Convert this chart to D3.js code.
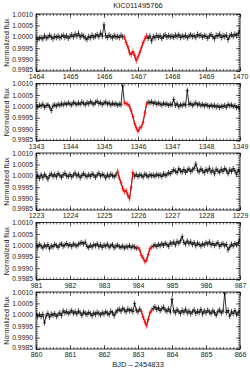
<!DOCTYPE html>
<html><head><meta charset="utf-8">
<script src="https://cdn.jsdelivr.net/npm/d3@7"></script>
<style>body{margin:0;background:#fff}svg{display:block}</style>
</head><body>
<script>
const title = "KIC011495766";
const xLabel = "BJD – 2454833";
const yLabel = "Normalized flux";
const panelStart = [1464, 1343, 1223, 981, 860];
const panelSpan = 6;
const sampleStep = 0.05;
const transitStart = [1466.58, 1345.58, 1225.38, 983.98, 863.08];
const transitEnd = [1467.28, 1346.28, 1225.88, 984.42, 863.42];
const errPpm = [130, 120, 125, 120, 125];
const yTicks = [0.9985, 0.9990, 0.9995, 1.0000, 1.0005, 1.0010];

// flux deviations in ppm, one value every sampleStep days from panelStart
const flux1 = [-40,-120,-60,-30,-90,40,-50,-20,60,-10,-80,20,-30,30,-40,10,60,-20,40,-60,
 20,80,0,110,30,150,-10,70,20,-50,-110,10,-40,60,-20,40,90,10,160,30,
 520,40,-30,70,10,-40,50,-10,20,-30,60,0,-20,-250,-420,-700,-780,-650,-820,-1050,
 -880,-700,-480,-260,-90,40,-60,30,-180,10,-40,60,-20,40,-70,20,80,-10,50,0,
 30,-20,70,10,90,-30,40,0,60,-40,30,80,10,50,-20,100,40,70,-10,50,
 20,-60,40,90,10,-80,60,30,110,-30,50,10,70,-120,40,90,20,110,60,150,280];
const flux2 = [20,-30,50,10,90,-40,30,60,-20,-180,20,60,10,90,40,110,60,130,80,150,
 100,60,170,120,80,150,90,180,130,70,160,110,200,140,90,170,220,120,160,80,
 140,190,100,150,60,130,80,120,50,100,60,900,150,120,90,0,-200,-450,-750,-950,
 -1100,-950,-900,-700,-300,100,180,150,200,120,170,90,140,100,60,130,80,110,40,90,
 60,300,40,110,-20,70,30,100,50,700,80,120,40,90,150,60,110,30,80,20,
 70,30,-10,50,0,40,-30,20,-50,10,-20,40,-40,80,20,60,-10,30,-60,-20,-150];
const flux3 = [-60,20,-120,40,-80,60,-30,-140,10,80,-20,50,-40,100,20,-60,40,110,0,-30,
 60,-50,30,120,-10,70,-80,20,90,10,-40,50,-20,80,30,-60,40,110,-10,60,
 20,-90,40,-30,70,10,-40,30,200,-100,-300,-550,-700,-650,-850,-1000,-500,150,-20,60,
 -30,40,10,-50,70,20,-40,50,0,30,-20,60,10,40,-30,80,20,50,130,90,
 180,260,200,140,310,220,170,280,150,240,300,190,260,330,520,240,180,300,220,140,
 270,200,330,160,250,90,290,210,150,280,200,320,240,100,260,190,310,220,70,260,180];
const flux4 = [20,-80,40,-30,-120,10,-60,30,-150,-20,-70,40,-10,-90,20,60,-40,10,80,-20,
 30,-50,60,10,-30,50,90,120,60,140,-40,-100,0,-70,30,-20,60,-60,20,-90,
 10,-40,50,-80,-20,30,-110,-40,10,-60,-90,-30,-120,-50,-80,-10,-100,-40,-70,-130,
 -100,-200,-450,-550,-720,-650,-400,-150,-80,-30,20,-60,40,-20,70,0,90,30,-40,110,
 60,140,20,170,90,200,380,120,60,190,80,150,30,120,-20,90,40,-30,60,10,
 120,50,150,20,80,-10,60,110,-40,30,70,-20,40,-200,-80,50,-30,80,20,120,260];
const flux5 = [40,-60,10,-80,20,-350,-40,60,-100,30,-20,50,-70,10,80,-30,170,90,140,60,
 110,180,70,130,40,160,90,-20,120,60,20,100,50,-40,80,20,110,60,0,90,
 40,130,70,10,150,90,-40,120,190,240,160,280,210,130,250,180,220,140,500,200,
 130,250,150,-100,-300,-480,-200,80,200,280,350,230,310,180,270,330,210,150,260,120,
 680,180,90,220,140,60,190,110,240,80,160,50,130,210,70,150,100,230,40,170,
 90,200,120,60,180,100,-20,140,210,80,160,950,100,190,-60,130,50,180,20,110,160];
const fluxes = [flux1, flux2, flux3, flux4, flux5];

const W = 250, H = 375;
const left = 36, right = 240, top0 = 14, ph = 57, step = 69.5;
const svg = d3.select("body").append("svg").attr("width", W).attr("height", H)
  .style("font-family", "'Liberation Sans', Arial, sans-serif");

svg.append("text").attr("x", (left + right) / 2).attr("y", 8).attr("text-anchor", "middle")
  .attr("font-size", 7.5).attr("fill", "#222").text(title);

const y = d3.scaleLinear().domain([0.9985, 1.0010]);
const yMinor = d3.range(0, 26).map(k => 0.9985 + k * 0.0001);

fluxes.forEach((fl, p) => {
  const t0 = top0 + p * step;
  const g = svg.append("g");
  const x = d3.scaleLinear().domain([panelStart[p], panelStart[p] + panelSpan]).range([left, right]);
  const ys = y.copy().range([t0 + ph, t0]);
  const data = fl.map((v, i) => ({t: panelStart[p] + i * sampleStep, f: 1 + v / 1e6, e: errPpm[p] / 1e6}));
  const clipId = "clip" + p;
  svg.append("clipPath").attr("id", clipId).append("rect")
    .attr("x", left).attr("y", t0).attr("width", right - left).attr("height", ph);
  const dg = g.append("g").attr("clip-path", `url(#${clipId})`);
  const inT = d => d.t >= transitStart[p] && d.t <= transitEnd[p];
  const line = d3.line().x(d => x(d.t)).y(d => ys(d.f));
  dg.append("path").datum(data).attr("d", line).attr("fill", "none").attr("stroke", "#000").attr("stroke-width", 0.8);
  const red = data.filter(inT);
  dg.append("path").datum(red).attr("d", line).attr("fill", "none").attr("stroke", "#f00").attr("stroke-width", 0.9);
  dg.selectAll("line.eb").data(data).join("line").attr("class", "eb")
    .attr("x1", d => x(d.t)).attr("x2", d => x(d.t))
    .attr("y1", d => ys(d.f - d.e)).attr("y2", d => ys(d.f + d.e))
    .attr("stroke", d => inT(d) ? "#f00" : "#000").attr("stroke-width", 0.7);
  dg.selectAll("line.hb").data(data).join("line").attr("class", "hb")
    .attr("x1", d => x(d.t) - 1.6).attr("x2", d => x(d.t) + 1.6)
    .attr("y1", d => ys(d.f)).attr("y2", d => ys(d.f))
    .attr("stroke", d => inT(d) ? "#f00" : "#000").attr("stroke-width", 0.7);

  const xMajor = d3.range(0, panelSpan + 1).map(k => panelStart[p] + k);
  const xMinor = d3.range(0, panelSpan * 10 + 1).map(k => panelStart[p] + k / 10);
  const fs = 7;
  const axStyle = sel => { sel.select(".domain").remove(); sel.selectAll("line").attr("stroke", "#000").attr("stroke-width", 0.6); sel.selectAll("text").attr("font-size", fs).attr("fill", "#222").attr("font-family", "'Liberation Sans', Arial, sans-serif"); };
  g.append("g").attr("transform", `translate(0,${t0 + ph})`).call(d3.axisBottom(x).tickValues(xMajor).tickSize(-4).tickPadding(3.5).tickFormat(d3.format("d"))).call(axStyle);
  g.append("g").attr("transform", `translate(0,${t0 + ph})`).call(d3.axisBottom(x).tickValues(xMinor).tickSize(-2).tickFormat("")).call(axStyle);
  g.append("g").attr("transform", `translate(0,${t0})`).call(d3.axisTop(x).tickValues(xMajor).tickSize(-4).tickFormat("")).call(axStyle);
  g.append("g").attr("transform", `translate(0,${t0})`).call(d3.axisTop(x).tickValues(xMinor).tickSize(-2).tickFormat("")).call(axStyle);
  const yl = g.append("g").attr("transform", `translate(${left},0)`).call(d3.axisLeft(ys).tickValues(yTicks).tickSize(-4).tickPadding(3).tickFormat(d3.format(".4f"))).call(axStyle);
  yl.selectAll("text").attr("font-size", 6.8).attr("dy", d => d === 0.9985 ? "0.1em" : "0.32em");
  g.append("g").attr("transform", `translate(${left},0)`).call(d3.axisLeft(ys).tickValues(yMinor).tickSize(-2).tickFormat("")).call(axStyle);
  g.append("g").attr("transform", `translate(${right},0)`).call(d3.axisRight(ys).tickValues(yTicks).tickSize(-4).tickFormat("")).call(axStyle);
  g.append("g").attr("transform", `translate(${right},0)`).call(d3.axisRight(ys).tickValues(yMinor).tickSize(-2).tickFormat("")).call(axStyle);
  g.append("rect").attr("x", left).attr("y", t0).attr("width", right - left).attr("height", ph)
    .attr("fill", "none").attr("stroke", "#000").attr("stroke-width", 0.8);
  g.append("text").attr("transform", `translate(9,${t0 + ph / 2}) rotate(-90)`).attr("text-anchor", "middle")
    .attr("font-size", 7).attr("fill", "#222").text(yLabel);
});

svg.append("text").attr("x", (left + right) / 2).attr("y", top0 + 4 * step + ph + 18).attr("text-anchor", "middle")
  .attr("font-size", 7.5).attr("fill", "#222").text(xLabel);
</script>
</body></html>
